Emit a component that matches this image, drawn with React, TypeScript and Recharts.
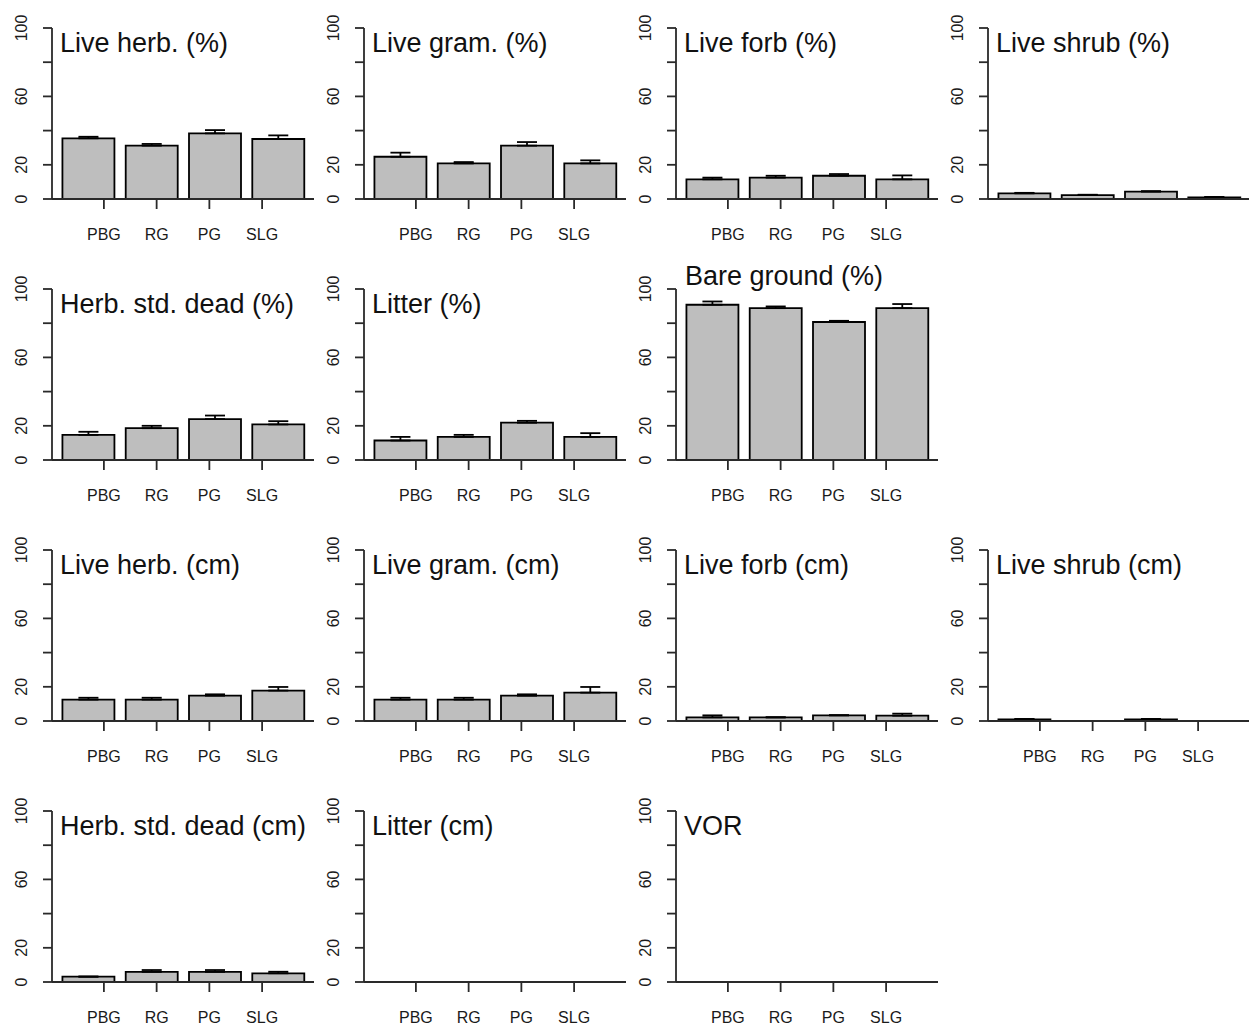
import { BarChart, Bar, XAxis, YAxis, ErrorBar } from 'recharts'

const groups = ['PBG', 'RG', 'PG', 'SLG']
const yTicks = [0, 20, 40, 60, 80, 100]
const yLabelsShown = [0, 20, 60, 100]

// row 1
const liveHerbPct = [35.5, 31.2, 38.4, 35.1]
const liveHerbPctSe = [0.9, 1.0, 1.9, 2.1]
const liveGramPct = [24.7, 20.8, 31.2, 20.8]
const liveGramPctSe = [2.4, 0.8, 2.1, 1.8]
const liveForbPct = [11.5, 12.5, 13.6, 11.5]
const liveForbPctSe = [1.0, 1.1, 1.0, 2.3]
const liveShrubPct = [3.3, 2.3, 4.3, 1.0]
const liveShrubPctSe = [0.3, 0.2, 0.3, 0.2]

// row 2
const stdDeadPct = [14.7, 18.6, 23.9, 20.8]
const stdDeadPctSe = [1.8, 1.4, 2.1, 1.9]
const litterPct = [11.4, 13.5, 21.8, 13.5]
const litterPctSe = [2.1, 1.2, 1.1, 2.2]
const bareGroundPct = [90.8, 88.8, 80.7, 88.8]
const bareGroundPctSe = [1.9, 1.0, 0.7, 2.4]

// row 3
const liveHerbCm = [12.5, 12.5, 14.8, 17.8]
const liveHerbCmSe = [1.1, 1.1, 0.8, 2.1]
const liveGramCm = [12.5, 12.5, 14.8, 16.6]
const liveGramCmSe = [1.1, 1.1, 0.8, 3.3]
const liveForbCm = [2.1, 2.1, 3.3, 3.1]
const liveForbCmSe = [1.2, 0.1, 0.1, 1.2]
const liveShrubCm = [1.0, 0, 1.0, 0]
const liveShrubCmSe = [0.2, 0, 0.2, 0]

// row 4
const stdDeadCm = [3.1, 5.9, 5.9, 5.1]
const stdDeadCmSe = [0.1, 1.1, 1.1, 0.9]
const litterCm = [null, null, null, null]
const vor = [null, null, null, null]

type Panel = {
  title: string
  values: (number | null)[]
  se?: number[]
  row: number
  col: number
  noXLabels?: boolean
  titleAbove?: boolean
}

const panels: Panel[] = [
  { title: 'Live herb. (%)', values: liveHerbPct, se: liveHerbPctSe, row: 0, col: 0 },
  { title: 'Live gram. (%)', values: liveGramPct, se: liveGramPctSe, row: 0, col: 1 },
  { title: 'Live forb (%)', values: liveForbPct, se: liveForbPctSe, row: 0, col: 2 },
  { title: 'Live shrub (%)', values: liveShrubPct, se: liveShrubPctSe, row: 0, col: 3, noXLabels: true },
  { title: 'Herb. std. dead (%)', values: stdDeadPct, se: stdDeadPctSe, row: 1, col: 0 },
  { title: 'Litter (%)', values: litterPct, se: litterPctSe, row: 1, col: 1 },
  { title: 'Bare ground (%)', values: bareGroundPct, se: bareGroundPctSe, row: 1, col: 2, titleAbove: true },
  { title: 'Live herb. (cm)', values: liveHerbCm, se: liveHerbCmSe, row: 2, col: 0 },
  { title: 'Live gram. (cm)', values: liveGramCm, se: liveGramCmSe, row: 2, col: 1 },
  { title: 'Live forb (cm)', values: liveForbCm, se: liveForbCmSe, row: 2, col: 2 },
  { title: 'Live shrub (cm)', values: liveShrubCm, se: liveShrubCmSe, row: 2, col: 3 },
  { title: 'Herb. std. dead (cm)', values: stdDeadCm, se: stdDeadCmSe, row: 3, col: 0 },
  { title: 'Litter (cm)', values: litterCm, row: 3, col: 1 },
  { title: 'VOR', values: vor, row: 3, col: 2 },
]

const FONT = '"Liberation Sans", Arial, sans-serif'
const INK = '#1a1a1a'
const AXIS = '#2a2a2a'

const PANEL_W = 312
const PANEL_H = 261
const PLOT_LEFT = 52
const PLOT_TOP = 28

function YTick({ x, y, payload }: { x?: number; y?: number; payload?: { value: number } }) {
  if (!payload || !yLabelsShown.includes(payload.value)) return null
  return (
    <text
      x={x}
      y={y}
      transform={`rotate(-90 ${x} ${y})`}
      textAnchor="middle"
      fontSize={16}
      fontFamily={FONT}
      fill={INK}
    >
      {payload.value}
    </text>
  )
}

function SmallBarPlot({ p }: { p: Panel }) {
  // R barplot midpoints: width 1, space 0.2
  const data = groups.map((g, i) => ({
    group: g,
    x: 0.7 + 1.2 * i,
    value: p.values[i],
    err: p.se ? [0, p.se[i]] : undefined,
  }))
  const hasBars = p.values.some(v => v !== null)

  return (
    <div
      style={{
        position: 'absolute',
        left: p.col * PANEL_W,
        top: p.row * PANEL_H,
        width: 316,
        height: PANEL_H,
      }}
    >
      <BarChart
        width={316}
        height={PANEL_H}
        data={data}
        margin={{ top: PLOT_TOP, right: 2, bottom: 0, left: 0 }}
      >
        <XAxis
          type="number"
          dataKey="x"
          domain={[0.016, 4.984]}
          allowDataOverflow
          ticks={[1, 2, 3, 4]}
          interval={0}
          tickFormatter={(v: number) => groups[Math.round(v) - 1]}
          height={62}
          tickSize={p.noXLabels ? 0 : 10}
          tickMargin={20}
          tick={p.noXLabels ? false : { fontSize: 16, fill: INK, fontFamily: FONT }}
          tickLine={p.noXLabels ? false : { stroke: AXIS, strokeWidth: 1.8 }}
          axisLine={{ stroke: AXIS, strokeWidth: 1.8 }}
        />
        <YAxis
          type="number"
          domain={[0, 100]}
          allowDataOverflow
          ticks={yTicks}
          interval={0}
          width={PLOT_LEFT}
          tickSize={9}
          tickMargin={16}
          tick={<YTick />}
          tickLine={{ stroke: AXIS, strokeWidth: 1.8 }}
          axisLine={{ stroke: AXIS, strokeWidth: 1.8 }}
        />
        <Bar
          dataKey="value"
          barSize={52}
          fill="#bebebe"
          stroke="#000"
          strokeWidth={1.8}
          isAnimationActive={false}
        >
          {hasBars && p.se && (
            <ErrorBar dataKey="err" width={10} stroke="#000" strokeWidth={1.8} direction="y" />
          )}
        </Bar>
      </BarChart>
      <svg
        width={316}
        height={PANEL_H}
        style={{ position: 'absolute', left: 0, top: 0, pointerEvents: 'none' }}
      >
        <text
          x={PLOT_LEFT + (p.titleAbove ? 9 : 8)}
          y={p.titleAbove ? PLOT_TOP - 4 : PLOT_TOP + 24}
          fontSize={27}
          fontFamily={FONT}
          fill="#111"
        >
          {p.title}
        </text>
      </svg>
    </div>
  )
}

export default function App() {
  return (
    <div
      style={{
        position: 'absolute',
        left: 0,
        top: 0,
        width: 1249,
        height: 1028,
        background: '#fff',
        overflow: 'hidden',
      }}
    >
      {panels.map(p => (
        <SmallBarPlot key={p.title} p={p} />
      ))}
    </div>
  )
}
